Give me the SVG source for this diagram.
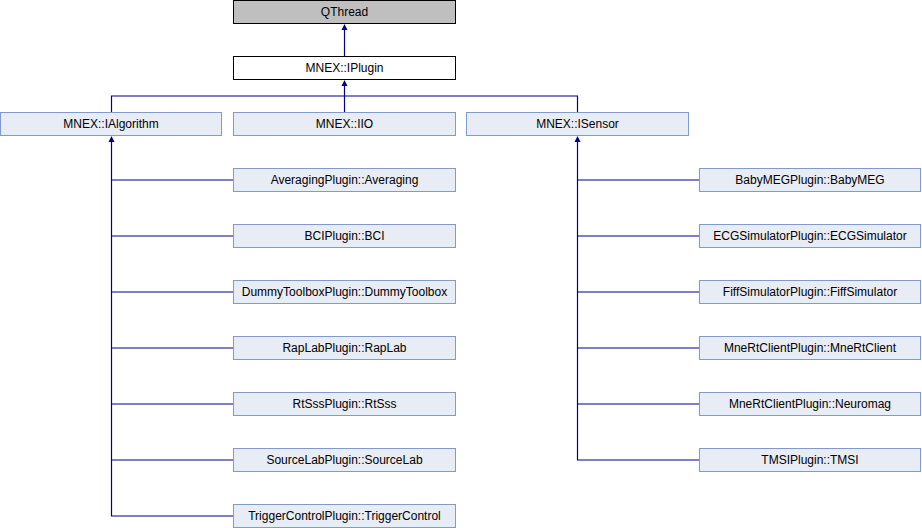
<svg xmlns="http://www.w3.org/2000/svg" width="922" height="528" viewBox="0 0 922 528">
<style>
.n rect{fill:#E8ECF5;stroke:#7F9BCE;stroke-width:1}
.n text{font-family:"Liberation Sans",Arial,sans-serif;font-size:12px;fill:#000;text-anchor:middle}
.e path{fill:none;stroke:#000088;stroke-width:1.2}
.e polygon{fill:#000088;stroke:none}
</style>
<rect width="922" height="528" fill="#fff"/>
<g class="e">
<path d="M344.5 30V56"/><polygon points="344.5,24 341.5,30 347.5,30"/>
<path d="M344.5 86V112M111.5 112V96H577.5V112"/><polygon points="344.5,80 341.5,86 347.5,86"/>
<path d="M111.5 142V516H233M111.5 180H233M111.5 236H233M111.5 292H233M111.5 348H233M111.5 404H233M111.5 460H233"/>
<polygon points="111.5,136 108.5,142 114.5,142"/>
<path d="M577.5 142V460H699M577.5 180H699M577.5 236H699M577.5 292H699M577.5 348H699M577.5 404H699"/>
<polygon points="577.5,136 574.5,142 580.5,142"/>
</g>
<g id="QThread" class="n"><rect x="233.5" y="0.5" width="222" height="23" style="fill:#BFBFBF;stroke:#000"/><text x="344.5" y="16">QThread</text></g>
<g id="IPlugin" class="n"><rect x="233.5" y="56.5" width="222" height="23" style="fill:#fff;stroke:#000"/><text x="344.5" y="72">MNEX::IPlugin</text></g>
<g id="IAlgorithm" class="n"><rect x="0.5" y="112.5" width="221" height="23"/><text x="111" y="128">MNEX::IAlgorithm</text></g>
<g id="IIO" class="n"><rect x="233.5" y="112.5" width="222" height="23"/><text x="344.5" y="128">MNEX::IIO</text></g>
<g id="ISensor" class="n"><rect x="466.5" y="112.5" width="222" height="23"/><text x="577.5" y="128">MNEX::ISensor</text></g>
<g id="Averaging" class="n"><rect x="233.5" y="168.5" width="222" height="23"/><text x="344.5" y="184">AveragingPlugin::Averaging</text></g>
<g id="BCI" class="n"><rect x="233.5" y="224.5" width="222" height="23"/><text x="344.5" y="240">BCIPlugin::BCI</text></g>
<g id="DummyToolbox" class="n"><rect x="233.5" y="280.5" width="222" height="23"/><text x="344.5" y="296">DummyToolboxPlugin::DummyToolbox</text></g>
<g id="RapLab" class="n"><rect x="233.5" y="336.5" width="222" height="23"/><text x="344.5" y="352">RapLabPlugin::RapLab</text></g>
<g id="RtSss" class="n"><rect x="233.5" y="392.5" width="222" height="23"/><text x="344.5" y="408">RtSssPlugin::RtSss</text></g>
<g id="SourceLab" class="n"><rect x="233.5" y="448.5" width="222" height="23"/><text x="344.5" y="464">SourceLabPlugin::SourceLab</text></g>
<g id="TriggerControl" class="n"><rect x="233.5" y="504.5" width="222" height="23"/><text x="344.5" y="520">TriggerControlPlugin::TriggerControl</text></g>
<g id="BabyMEG" class="n"><rect x="699.5" y="168.5" width="221" height="23"/><text x="810" y="184">BabyMEGPlugin::BabyMEG</text></g>
<g id="ECGSimulator" class="n"><rect x="699.5" y="224.5" width="221" height="23"/><text x="810" y="240">ECGSimulatorPlugin::ECGSimulator</text></g>
<g id="FiffSimulator" class="n"><rect x="699.5" y="280.5" width="221" height="23"/><text x="810" y="296">FiffSimulatorPlugin::FiffSimulator</text></g>
<g id="MneRtClient" class="n"><rect x="699.5" y="336.5" width="221" height="23"/><text x="810" y="352">MneRtClientPlugin::MneRtClient</text></g>
<g id="Neuromag" class="n"><rect x="699.5" y="392.5" width="221" height="23"/><text x="810" y="408">MneRtClientPlugin::Neuromag</text></g>
<g id="TMSI" class="n"><rect x="699.5" y="448.5" width="221" height="23"/><text x="810" y="464">TMSIPlugin::TMSI</text></g>
</svg>
